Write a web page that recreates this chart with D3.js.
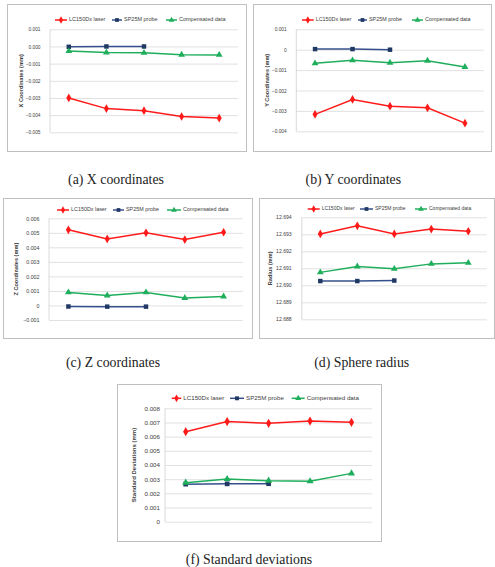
<!DOCTYPE html>
<html><head><meta charset="utf-8">
<script src="https://cdn.jsdelivr.net/npm/d3@7"></script>
<style>body{margin:0;background:#fff}svg{display:block}</style>
</head><body>
<script>
// ---- data ----
const categories = [1, 2, 3, 4, 5];
const seriesNames = ["LC150Dx laser", "SP25M probe", "Compensated data"];

const xLaser = [-0.00300, -0.00362, -0.00374, -0.00408, -0.00417];
const xProbe = [-0.00002, 0.00000, 0.00000];
const xComp  = [-0.00027, -0.00035, -0.00037, -0.00048, -0.00049];

const yLaser = [-0.00317, -0.00244, -0.00277, -0.00285, -0.00360];
const yProbe = [0.00003, 0.00003, 0.00000];
const yComp  = [-0.00067, -0.00052, -0.00064, -0.00054, -0.00085];

const zLaser = [0.00521, 0.00458, 0.00500, 0.00454, 0.00504];
const zProbe = [-0.00007, -0.00008, -0.00008];
const zComp  = [0.00090, 0.00069, 0.00090, 0.00052, 0.00062];

const rLaser = [12.69302, 12.69350, 12.69302, 12.69331, 12.69318];
const rProbe = [12.69025, 12.69025, 12.69028];
const rComp  = [12.69076, 12.69111, 12.69097, 12.69126, 12.69132];

const sLaser = [0.00635, 0.00706, 0.00694, 0.00710, 0.00701];
const sProbe = [0.00265, 0.00267, 0.00268];
const sComp  = [0.00275, 0.00301, 0.00289, 0.00285, 0.00341];

const xTicks = [0.001, 0, -0.001, -0.002, -0.003, -0.004, -0.005];
const yTicks = [0.001, 0, -0.001, -0.002, -0.003, -0.004];
const zTicks = [0.006, 0.005, 0.004, 0.003, 0.002, 0.001, 0, -0.001];
const rTicks = [12.694, 12.693, 12.692, 12.691, 12.690, 12.689, 12.688];
const sTicks = [0.008, 0.007, 0.006, 0.005, 0.004, 0.003, 0.002, 0.001, 0];

const captions = ["(a) X coordinates", "(b)  Y coordinates", "(c)  Z coordinates", "(d)  Sphere radius", "(f) Standard deviations"];
const yTitles = ["X Coordinates (mm)", "Y Coordinates (mm)", "Z Coordinates (mm)", "Radius (mm)", "Standard Deviations (mm)"];

// ---- styles ----
const colors = ["#ff1a1a", "#1f3864", "#1fae5b"];
const lineColors = ["#ff1a1a", "#34508c", "#1fae5b"];
const symbols = [d3.symbolDiamond, d3.symbolSquare, d3.symbolTriangle];

const W = 495, H = 567;
const svg = d3.select("body").append("svg").attr("width", W).attr("height", H);
const FONT = "'Liberation Sans', Arial, sans-serif";

const panels = [
  {box:[7,4,246,151], plot:[50,29.3,238,132.3], domain:[-0.005,0.001], ticks:xTicks, fmt:d3.format(".3f"),
   tickFs:4.8, labelRight:40.5, title:yTitles[0], titleX:21.7, titleFs:5.6,
   legY:20, legFs:5.5, legItems:[[55,69],[112,124],[166,179]],
   data:[xLaser,xProbe,xComp], caption:captions[0], capX:116, capY:184, ms:1},
  {box:[253,4,491,151], plot:[296.3,29.3,483.7,131.3], domain:[-0.004,0.001], ticks:yTicks, fmt:d=>d===0?"0":d3.format(".3f")(d),
   tickFs:4.8, labelRight:286.7, title:yTitles[1], titleX:267.7, titleFs:5.6,
   legY:20, legFs:5.4, legItems:[[302,315.7],[358,369],[412,425]],
   data:[yLaser,yProbe,yComp], caption:captions[1], capX:353.3, capY:184, ms:1},
  {box:[3,198,252,338], plot:[49,218.3,243,320], domain:[-0.001,0.006], ticks:zTicks, fmt:d=>d===0?"0":d3.format(".3f")(d),
   tickFs:5.3, labelRight:39.5, title:yTitles[2], titleX:16.7, titleFs:5.6,
   legY:210, legFs:5.4, legItems:[[57,71],[113,126],[167,183]],
   data:[zLaser,zProbe,zComp], caption:captions[2], capX:113, capY:366.5, ms:1},
  {box:[259,198,494,338], plot:[301.8,217.3,486.8,319.3], domain:[12.688,12.694], ticks:rTicks, fmt:d3.format(".3f"),
   tickFs:5.1, labelRight:291.7, title:yTitles[3], titleX:271, titleFs:5.6,
   legY:209, legFs:5.0, legItems:[[307.7,321.7],[360,375],[415,429]],
   data:[rLaser,rProbe,rComp], caption:captions[3], capX:361.7, capY:366.5, ms:1},
  {box:[117,384,381,541], plot:[165,408.3,372.2,521.7], domain:[0,0.008], ticks:sTicks, fmt:d=>d===0?"0":d3.format(".3f")(d),
   tickFs:6.2, labelRight:160, title:yTitles[4], titleX:134, titleFs:6.0,
   legY:398.3, legFs:6.2, legItems:[[171.7,183.3],[230,246],[291.7,306.7]],
   data:[sLaser,sProbe,sComp], caption:captions[4], capX:249, capY:564, ms:1.1}
];

panels.forEach(p => {
  const g = svg.append("g");
  const [bx0,by0,bx1,by1] = p.box;
  g.append("rect").attr("x",bx0+0.5).attr("y",by0+0.5).attr("width",bx1-bx0).attr("height",by1-by0)
    .attr("fill","#fff").attr("stroke","#bfbfbf").attr("stroke-width",1);
  const [px0,py0,px1,py1] = p.plot;
  const x = d3.scaleBand().domain(categories).range([px0,px1]);
  const y = d3.scaleLinear().domain(p.domain).range([py1,py0]);

  // gridlines
  const grid = d3.axisLeft(y).tickValues(p.ticks).tickSize(-(px1-px0)).tickFormat("");
  const gg = g.append("g").attr("transform",`translate(${px0},0)`).call(grid);
  gg.select(".domain").remove();
  gg.selectAll("line").attr("stroke","#d9d9d9").attr("stroke-width",0.8);

  // tick labels
  const yAxis = d3.axisLeft(y).tickValues(p.ticks).tickSize(0).tickPadding(px0-p.labelRight).tickFormat(p.fmt);
  const ya = g.append("g").attr("transform",`translate(${px0},0)`).call(yAxis);
  ya.select(".domain").remove();
  ya.selectAll("text").attr("font-family",FONT).attr("font-size",p.tickFs).attr("fill","#404040");

  // vertical axis line
  g.append("line").attr("x1",px0).attr("x2",px0).attr("y1",py0).attr("y2",py1)
    .attr("stroke","#d0d0d0").attr("stroke-width",0.8);

  // y title
  g.append("text").attr("transform",`translate(${p.titleX},${(py0+py1)/2}) rotate(-90)`)
    .attr("text-anchor","middle").attr("dominant-baseline","middle")
    .attr("font-family",FONT).attr("font-weight","bold").attr("font-size",p.titleFs).attr("fill","#404040")
    .text(p.title);

  // series
  const line = d3.line().x((d,i)=>x(categories[i])+x.bandwidth()/2).y(d=>y(d));
  p.data.forEach((vals,si) => {
    g.append("path").datum(vals).attr("d",line).attr("fill","none")
      .attr("stroke",lineColors[si]).attr("stroke-width",1.5);
    g.selectAll(null).data(vals).enter().append("path")
      .attr("transform",(d,i)=>`translate(${x(categories[i])+x.bandwidth()/2},${y(d)})`)
      .attr("d",d3.symbol().type(symbols[si]).size([22,20,20][si]*p.ms))
      .attr("fill",colors[si]);
  });

  // legend
  p.legItems.forEach(([lx,tx],si) => {
    const lg = g.append("g");
    lg.append("line").attr("x1",lx).attr("x2",tx-2).attr("y1",p.legY).attr("y2",p.legY)
      .attr("stroke",lineColors[si]).attr("stroke-width",1.5);
    lg.append("path").attr("transform",`translate(${(lx+tx-2)/2},${p.legY})`)
      .attr("d",d3.symbol().type(symbols[si]).size([16,14,14][si]*p.ms)).attr("fill",colors[si]);
    lg.append("text").attr("x",tx).attr("y",p.legY).attr("dominant-baseline","middle")
      .attr("font-family",FONT).attr("font-size",p.legFs).attr("fill","#404040").text(seriesNames[si]);
  });

  // caption
  svg.append("text").attr("x",p.capX).attr("y",p.capY).attr("text-anchor","middle")
    .attr("font-family","'Liberation Serif', 'Times New Roman', serif").attr("font-size",13.8).attr("fill","#222")
    .text(p.caption);
});
</script>
</body></html>
